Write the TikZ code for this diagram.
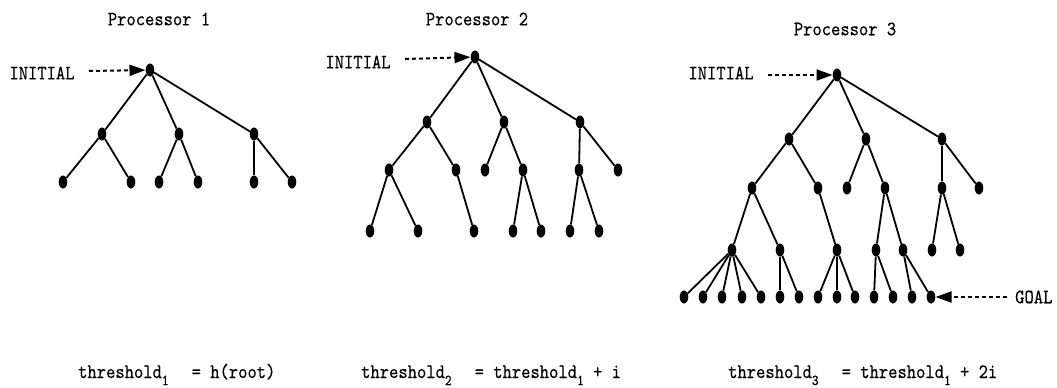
\documentclass[tikz,border=0pt]{standalone}
\usepackage{fontspec}
\usetikzlibrary{shapes.geometric,arrows.meta}
\newfontfamily\mono[Extension=.otf,FakeStretch=0.864,FakeBold=0.3]{lmmono10-regular}
\newcommand\lbl{\mono\fontsize{20.5}{24}\selectfont}
\newcommand\sub[1]{\raisebox{-7pt}{\fontsize{15}{17}\selectfont #1}}
\tikzset{
  dot/.style={ellipse, fill=black, draw=none, inner sep=0pt,
              minimum width=8.6pt, minimum height=13pt},
  edge/.style={line width=1.8pt},
  pointer/.style={line width=2pt, dash pattern=on 4pt off 3pt,
                  -{Triangle[length=16pt,width=11pt]}},
  txt/.style={inner sep=0pt, font=\lbl},
}
\begin{document}
\begin{tikzpicture}[x=1pt,y=-1pt]
\useasboundingbox (0,0) rectangle (1057,388);

% ---------- Processor 1 ----------
\node[txt] (h1) at (159,19) {Processor 1};
\node[dot] (r1)   at (150,70) {};
\node[dot] (p1a)  at (102,134) {};
\node[dot] (p1b)  at (179,134) {};
\node[dot] (p1c)  at (254,134) {};
\node[dot] (p1a1) at (63,182) {};
\node[dot] (p1a2) at (131,182) {};
\node[dot] (p1b1) at (159,182) {};
\node[dot] (p1b2) at (198,182) {};
\node[dot] (p1c1) at (254,182) {};
\node[dot] (p1c2) at (292,182) {};
\foreach \u/\v in {r1/p1a, r1/p1b, r1/p1c, p1a/p1a1, p1a/p1a2,
                   p1b/p1b1, p1b/p1b2, p1c/p1c1, p1c/p1c2}
  \draw[edge] (\u) -- (\v);
\node[txt] (i1) at (42,73) {INITIAL};
\coordinate (i1s) at (89,71);
\draw[pointer] (i1s) -- (r1);

% ---------- Processor 2 ----------
\node[txt] (h2) at (477,19) {Processor 2};
\node[dot] (r2)   at (475,57) {};
\node[dot] (q1)   at (427,122) {};
\node[dot] (q2)   at (504,122) {};
\node[dot] (q3)   at (580,122) {};
\node[dot] (q11)  at (389,170) {};
\node[dot] (q12)  at (456,170) {};
\node[dot] (q21)  at (485,170) {};
\node[dot] (q22)  at (523,170) {};
\node[dot] (q31)  at (579,170) {};
\node[dot] (q32)  at (618,170) {};
\node[dot] (q111) at (370,231) {};
\node[dot] (q112) at (418,231) {};
\node[dot] (q121) at (474,231) {};
\node[dot] (q221) at (513,231) {};
\node[dot] (q222) at (541,231) {};
\node[dot] (q311) at (570,231) {};
\node[dot] (q312) at (599,231) {};
\foreach \u/\v in {r2/q1, r2/q2, r2/q3, q1/q11, q1/q12, q2/q21, q2/q22,
                   q3/q31, q3/q32, q11/q111, q11/q112, q12/q121,
                   q22/q221, q22/q222, q31/q311, q31/q312}
  \draw[edge] (\u) -- (\v);
\node[txt] (i2) at (358,62) {INITIAL};
\coordinate (i2s) at (405,59);
\draw[pointer] (i2s) -- (r2);

% ---------- Processor 3 ----------
\node[txt] (h3) at (845,29) {Processor 3};
\node[dot] (r3)   at (837,75) {};
\node[dot] (s1)   at (789,139) {};
\node[dot] (s2)   at (866,139) {};
\node[dot] (s3)   at (942,139) {};
\node[dot] (s11)  at (752,188) {};
\node[dot] (s12)  at (818,188) {};
\node[dot] (s21)  at (847,188) {};
\node[dot] (s22)  at (885,188) {};
\node[dot] (s31)  at (942,188) {};
\node[dot] (s32)  at (979,188) {};
\node[dot] (s111) at (732,250) {};
\node[dot] (s112) at (780,250) {};
\node[dot] (s121) at (837,250) {};
\node[dot] (s221) at (876,250) {};
\node[dot] (s222) at (903,250) {};
\node[dot] (s311) at (932,250) {};
\node[dot] (s312) at (960,250) {};
\node[dot] (t1) at (684,297) {};
\node[dot] (t2) at (703,297) {};
\node[dot] (t3) at (722,297) {};
\node[dot] (t4) at (742,297) {};
\node[dot] (t5) at (761,297) {};
\node[dot] (t6) at (780,297) {};
\node[dot] (t7) at (799,297) {};
\node[dot] (t8) at (818,297) {};
\node[dot] (t9) at (837,297) {};
\node[dot] (t10) at (855,297) {};
\node[dot] (t11) at (874,297) {};
\node[dot] (t12) at (893,297) {};
\node[dot] (t13) at (912,297) {};
\node[dot] (goal) at (931,297) {};
\foreach \u/\v in {r3/s1, r3/s2, r3/s3, s1/s11, s1/s12, s2/s21, s2/s22,
                   s3/s31, s3/s32, s11/s111, s11/s112, s12/s121,
                   s22/s221, s22/s222, s31/s311, s31/s312,
                   s111/t1, s111/t2, s111/t3, s111/t4, s111/t5,
                   s112/t6, s112/t7, s121/t8, s121/t9, s121/t10,
                   s221/t11, s221/t12, s222/t13, s222/goal}
  \draw[edge] (\u) -- (\v);
\node[txt] (i3) at (721,73) {INITIAL};
\coordinate (i3s) at (768,75);
\draw[pointer] (i3s) -- (r3);
\node[txt, anchor=west] (gl) at (1015,297) {GOAL};
\coordinate (gs) at (1007,297);
\draw[pointer] (gs) -- (goal);

% ---------- thresholds ----------
\node[txt, anchor=base west] (th1) at (78,378)
  {threshold\sub{1}\hspace{23pt}= h(root)};
\node[txt, anchor=base west] (th2) at (361,378)
  {threshold\sub{2}\hspace{23pt}= threshold\sub{1} + i};
\node[txt, anchor=base west] (th3) at (728,378)
  {threshold\sub{3}\hspace{23pt}= threshold\sub{1} + 2i};
\end{tikzpicture}
\end{document}
